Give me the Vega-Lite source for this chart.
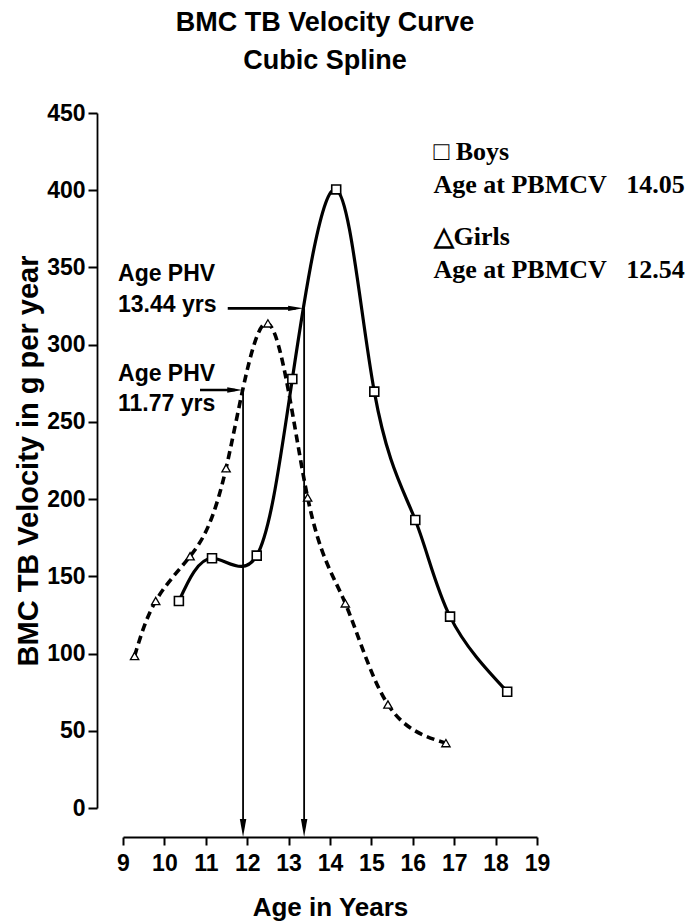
{
  "$schema": "https://vega.github.io/schema/vega-lite/v6.json",
  "autosize": "none",
  "width": 414,
  "height": 695,
  "padding": {"left": 123, "top": 113, "right": 162, "bottom": 113},
  "background": "white",
  "config": {"view": {"stroke": null}, "font": "Liberation Sans"},
  "title": {
    "text": ["BMC TB Velocity Curve", "Cubic Spline"],
    "font": "Liberation Sans",
    "fontSize": 27,
    "fontWeight": "bold",
    "lineHeight": 38,
    "color": "black",
    "anchor": "middle",
    "dx": -5,
    "offset": 27
  },
  "datasets": {
    "curves": [
      {"group": "Boys", "age": 10.35, "v": 134},
      {"group": "Boys", "age": 11.15, "v": 161.7},
      {"group": "Boys", "age": 12.23, "v": 163.4},
      {"group": "Boys", "age": 13.09, "v": 277.8},
      {"group": "Boys", "age": 14.15, "v": 400.5},
      {"group": "Boys", "age": 15.07, "v": 269.6},
      {"group": "Boys", "age": 16.06, "v": 186.5},
      {"group": "Boys", "age": 16.9, "v": 123.9},
      {"group": "Boys", "age": 18.28, "v": 75.3},
      {"group": "Girls", "age": 9.28, "v": 98.4},
      {"group": "Girls", "age": 9.79, "v": 134},
      {"group": "Girls", "age": 10.62, "v": 163},
      {"group": "Girls", "age": 11.49, "v": 220},
      {"group": "Girls", "age": 12.5, "v": 313.8},
      {"group": "Girls", "age": 13.46, "v": 201},
      {"group": "Girls", "age": 14.37, "v": 132.5},
      {"group": "Girls", "age": 15.4, "v": 67},
      {"group": "Girls", "age": 16.8, "v": 42}
    ],
    "rules": [
      {"x": 11.9, "y": 270.6, "x2": 11.9, "y2": -14, "w": "thin"},
      {"x": 13.375, "y": 323.5, "x2": 13.375, "y2": -14, "w": "thin"},
      {"x": 10.86, "y": 270.6, "x2": 11.7, "y2": 270.6, "w": "thick"},
      {"x": 11.53, "y": 323.5, "x2": 13.17, "y2": 323.5, "w": "thick"}
    ],
    "rightheads": [
      {"x": 11.7, "y": 270.6},
      {"x": 13.17, "y": 323.5}
    ],
    "downheads": [
      {"x": 11.9, "y": -13},
      {"x": 13.375, "y": -13}
    ],
    "notes": [
      {"label": "Age PHV", "x": 8.88, "y": 345.8},
      {"label": "13.44 yrs", "x": 8.88, "y": 325.7},
      {"label": "Age PHV", "x": 8.88, "y": 281},
      {"label": "11.77 yrs", "x": 8.88, "y": 261.6}
    ],
    "legend": [
      {"label": "□ Boys", "x": 16.5, "y": 424.8},
      {"label": "Age at PBMCV\u00a0\u00a0\u00a014.05", "x": 16.5, "y": 403.4},
      {"label": "△Girls", "x": 16.5, "y": 369.7},
      {"label": "Age at PBMCV\u00a0\u00a0\u00a012.54", "x": 16.5, "y": 348.4}
    ]
  },
  "layer": [
    {
      "data": {"name": "curves"},
      "transform": [{"filter": "datum.group === 'Girls'"}],
      "mark": {"type": "line", "interpolate": "natural", "color": "black", "strokeWidth": 3.6, "strokeDash": [8, 5]},
      "encoding": {
        "x": {
          "field": "age", "type": "quantitative",
          "scale": {"domain": [9, 19], "zero": false, "nice": false},
          "axis": {
            "values": [9, 10, 11, 12, 13, 14, 15, 16, 17, 18, 19],
            "offset": 29, "grid": false,
            "domainColor": "black", "domainWidth": 2,
            "tickColor": "black", "tickWidth": 2, "tickSize": 8,
            "labelFontSize": 23, "labelFontWeight": "bold", "labelColor": "black", "labelPadding": 7,
            "labelFlush": false,
            "title": "Age in Years", "titleFontSize": 26, "titleFontWeight": "bold", "titleColor": "black", "titlePadding": 19
          }
        },
        "y": {
          "field": "v", "type": "quantitative",
          "scale": {"domain": [0, 450], "nice": false},
          "axis": {
            "values": [0, 50, 100, 150, 200, 250, 300, 350, 400, 450],
            "offset": 26, "grid": false,
            "domainColor": "black", "domainWidth": 1.8,
            "tickColor": "black", "tickWidth": 2, "tickSize": 9,
            "labelFontSize": 23, "labelFontWeight": "bold", "labelColor": "black", "labelPadding": 3,
            "labelFlush": false,
            "title": "BMC TB Velocity in g per year", "titleFontSize": 29, "titleFontWeight": "bold", "titleColor": "black", "titlePadding": 3
          }
        }
      }
    },
    {
      "data": {"name": "curves"},
      "transform": [{"filter": "datum.group === 'Boys'"}],
      "mark": {"type": "line", "interpolate": "natural", "color": "black", "strokeWidth": 3.2},
      "encoding": {
        "x": {"field": "age", "type": "quantitative"},
        "y": {"field": "v", "type": "quantitative"}
      }
    },
    {
      "data": {"name": "curves"},
      "transform": [{"filter": "datum.group === 'Boys'"}],
      "mark": {"type": "point", "shape": "square", "size": 80, "filled": true, "fill": "white", "stroke": "black", "strokeWidth": 1.6, "opacity": 1},
      "encoding": {
        "x": {"field": "age", "type": "quantitative"},
        "y": {"field": "v", "type": "quantitative"}
      }
    },
    {
      "data": {"name": "curves"},
      "transform": [{"filter": "datum.group === 'Girls'"}],
      "mark": {"type": "point", "shape": "triangle-up", "size": 70, "filled": true, "fill": "white", "stroke": "black", "strokeWidth": 1.3, "opacity": 1},
      "encoding": {
        "x": {"field": "age", "type": "quantitative"},
        "y": {"field": "v", "type": "quantitative"}
      }
    },
    {
      "data": {"name": "rules"},
      "transform": [{"filter": "datum.w === 'thin'"}],
      "mark": {"type": "rule", "color": "black", "strokeWidth": 1.8, "clip": false},
      "encoding": {
        "x": {"field": "x", "type": "quantitative"},
        "y": {"field": "y", "type": "quantitative"},
        "x2": {"field": "x2"},
        "y2": {"field": "y2"}
      }
    },
    {
      "data": {"name": "rules"},
      "transform": [{"filter": "datum.w === 'thick'"}],
      "mark": {"type": "rule", "color": "black", "strokeWidth": 2.6, "clip": false},
      "encoding": {
        "x": {"field": "x", "type": "quantitative"},
        "y": {"field": "y", "type": "quantitative"},
        "x2": {"field": "x2"},
        "y2": {"field": "y2"}
      }
    },
    {
      "data": {"name": "rightheads"},
      "mark": {"type": "point", "shape": "M-1,-0.36L1,0L-1,0.36Z", "size": 225, "filled": true, "color": "black", "opacity": 1},
      "encoding": {
        "x": {"field": "x", "type": "quantitative"},
        "y": {"field": "y", "type": "quantitative"}
      }
    },
    {
      "data": {"name": "downheads"},
      "mark": {"type": "point", "shape": "M-0.36,-1L0.36,-1L0,1Z", "size": 324, "filled": true, "color": "black", "opacity": 1},
      "encoding": {
        "x": {"field": "x", "type": "quantitative"},
        "y": {"field": "y", "type": "quantitative"}
      }
    },
    {
      "data": {"name": "notes"},
      "mark": {"type": "text", "align": "left", "baseline": "middle", "font": "Liberation Sans", "fontSize": 23, "fontWeight": "bold", "color": "black"},
      "encoding": {
        "x": {"field": "x", "type": "quantitative"},
        "y": {"field": "y", "type": "quantitative"},
        "text": {"field": "label"}
      }
    },
    {
      "data": {"name": "legend"},
      "mark": {"type": "text", "align": "left", "baseline": "middle", "font": "Liberation Serif", "fontSize": 26, "fontWeight": "bold", "color": "black"},
      "encoding": {
        "x": {"field": "x", "type": "quantitative"},
        "y": {"field": "y", "type": "quantitative"},
        "text": {"field": "label"}
      }
    }
  ]
}
